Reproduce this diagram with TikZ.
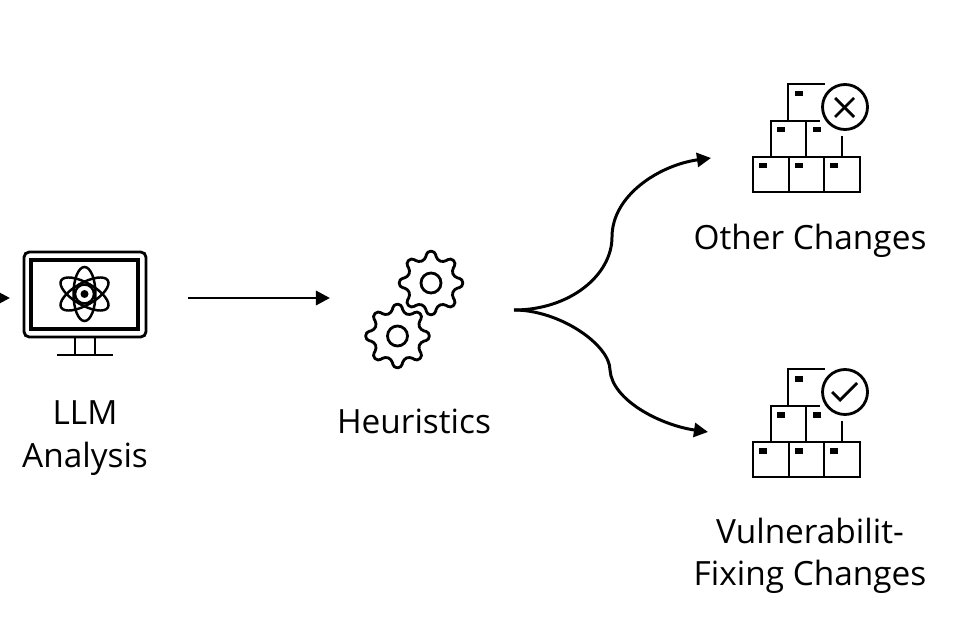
\documentclass[tikz,border=0pt]{standalone}
\usepackage{fontspec}
\setmainfont{Open Sans}
\usetikzlibrary{arrows.meta}
\tikzset{
    flow/.style={line width=1.7pt,-{Triangle[length=8pt,width=8pt]}},
    icon/.style={line width=1.6pt},
    lbl/.style={font=\fontsize{19}{24.2}\selectfont,align=center,inner sep=0pt},
    tag/.style={fill=black,draw=none},
    gear/.pic={
        \draw[icon,rounded corners=2pt] (-7:32)
            \foreach \a in {0,45,...,270}{ -- (\a+7:32) -- (\a+14:24) -- (\a+31:24) -- (\a+38:32)}
            -- (322:32) -- (329:24) -- (346:24) -- cycle;
        \draw[icon] (0,0) circle (10);
    },
    pile/.pic={
        \draw[icon] (-92,50) rectangle (-56,85);
        \draw[icon] (-56,50) rectangle (-21,85);
        \draw[icon] (-21,50) rectangle (15,85);
        \draw[icon] (-74,50) -- (-74,14) -- (-25,14);
        \draw[icon] (-39,14) -- (-39,50);
        \draw[icon] (-3,29) -- (-3,50);
        \draw[icon] (-57,14) -- (-57,-23) -- (-20,-23);
        \draw[icon] (0,0) circle (22.5);
        \foreach \x/\y in {-86/56,-50/56,-15/56,-68/20,-32/20,-50/-16}
            \fill[tag] (\x,\y) rectangle ++(7.5,5.5);
    }
}
\begin{document}
\begin{tikzpicture}[x=0.02cm,y=-0.02cm]
    \useasboundingbox (0,0) rectangle (956,638);

    % monitor
    \draw[icon,rounded corners=3pt] (24,252) rectangle (146,337);
    \draw[icon,line width=1.8pt] (31,260) rectangle (138,329);
    \draw[icon] (75,337) -- (75,355);
    \draw[icon] (95,337) -- (95,355);
    \draw[icon] (57,355) -- (113,355);
    \foreach \r in {90,30,150}
        \draw[icon,line width=1.4pt] (84.5,294) ellipse[x radius=27,y radius=11,rotate=\r];
    \draw[icon,line width=1.4pt] (84.5,294) circle (9.5);
    \fill (84.5,294) circle (4);

    \node[lbl] (llm) at (85,438) {LLM\\Analysis};
    \node[lbl] (heur) at (414,421) {Heuristics};
    \node[lbl] (other) at (810,241) {Other Changes};
    \node[lbl] (vuln) at (810,556) {Vulnerabilit-\\Fixing Changes};

    % gears
    \pic at (431,283) {gear};
    \pic at (397.5,336) {gear};

    % box piles
    \pic at (845,107) {pile};
    \pic at (845,392) {pile};
    \draw[icon] (835,98) -- (854,117);
    \draw[icon] (854,98) -- (835,117);
    \draw[icon] (832,392) -- (840,400) -- (857,383);

    \coordinate (in0) at (-6,298);
    \coordinate (in1) at (10,298);
    \coordinate (a1) at (188,298);
    \coordinate (a2) at (330,298);
    \coordinate (fork) at (514,310);
    \coordinate (up) at (612,237);
    \coordinate (upend) at (711,158);
    \coordinate (down) at (610,370);
    \coordinate (downend) at (708,432);

    \draw[flow] (in0) -- (in1);
    \draw[flow] (a1) -- (a2);
    \draw[flow] (fork) .. controls (570,310) and (612,275) .. (up)
        .. controls (612,195) and (660,165) .. (upend);
    \draw[flow] (fork) .. controls (560,310) and (610,345) .. (down)
        .. controls (612,400) and (660,425) .. (downend);
\end{tikzpicture}
\end{document}
